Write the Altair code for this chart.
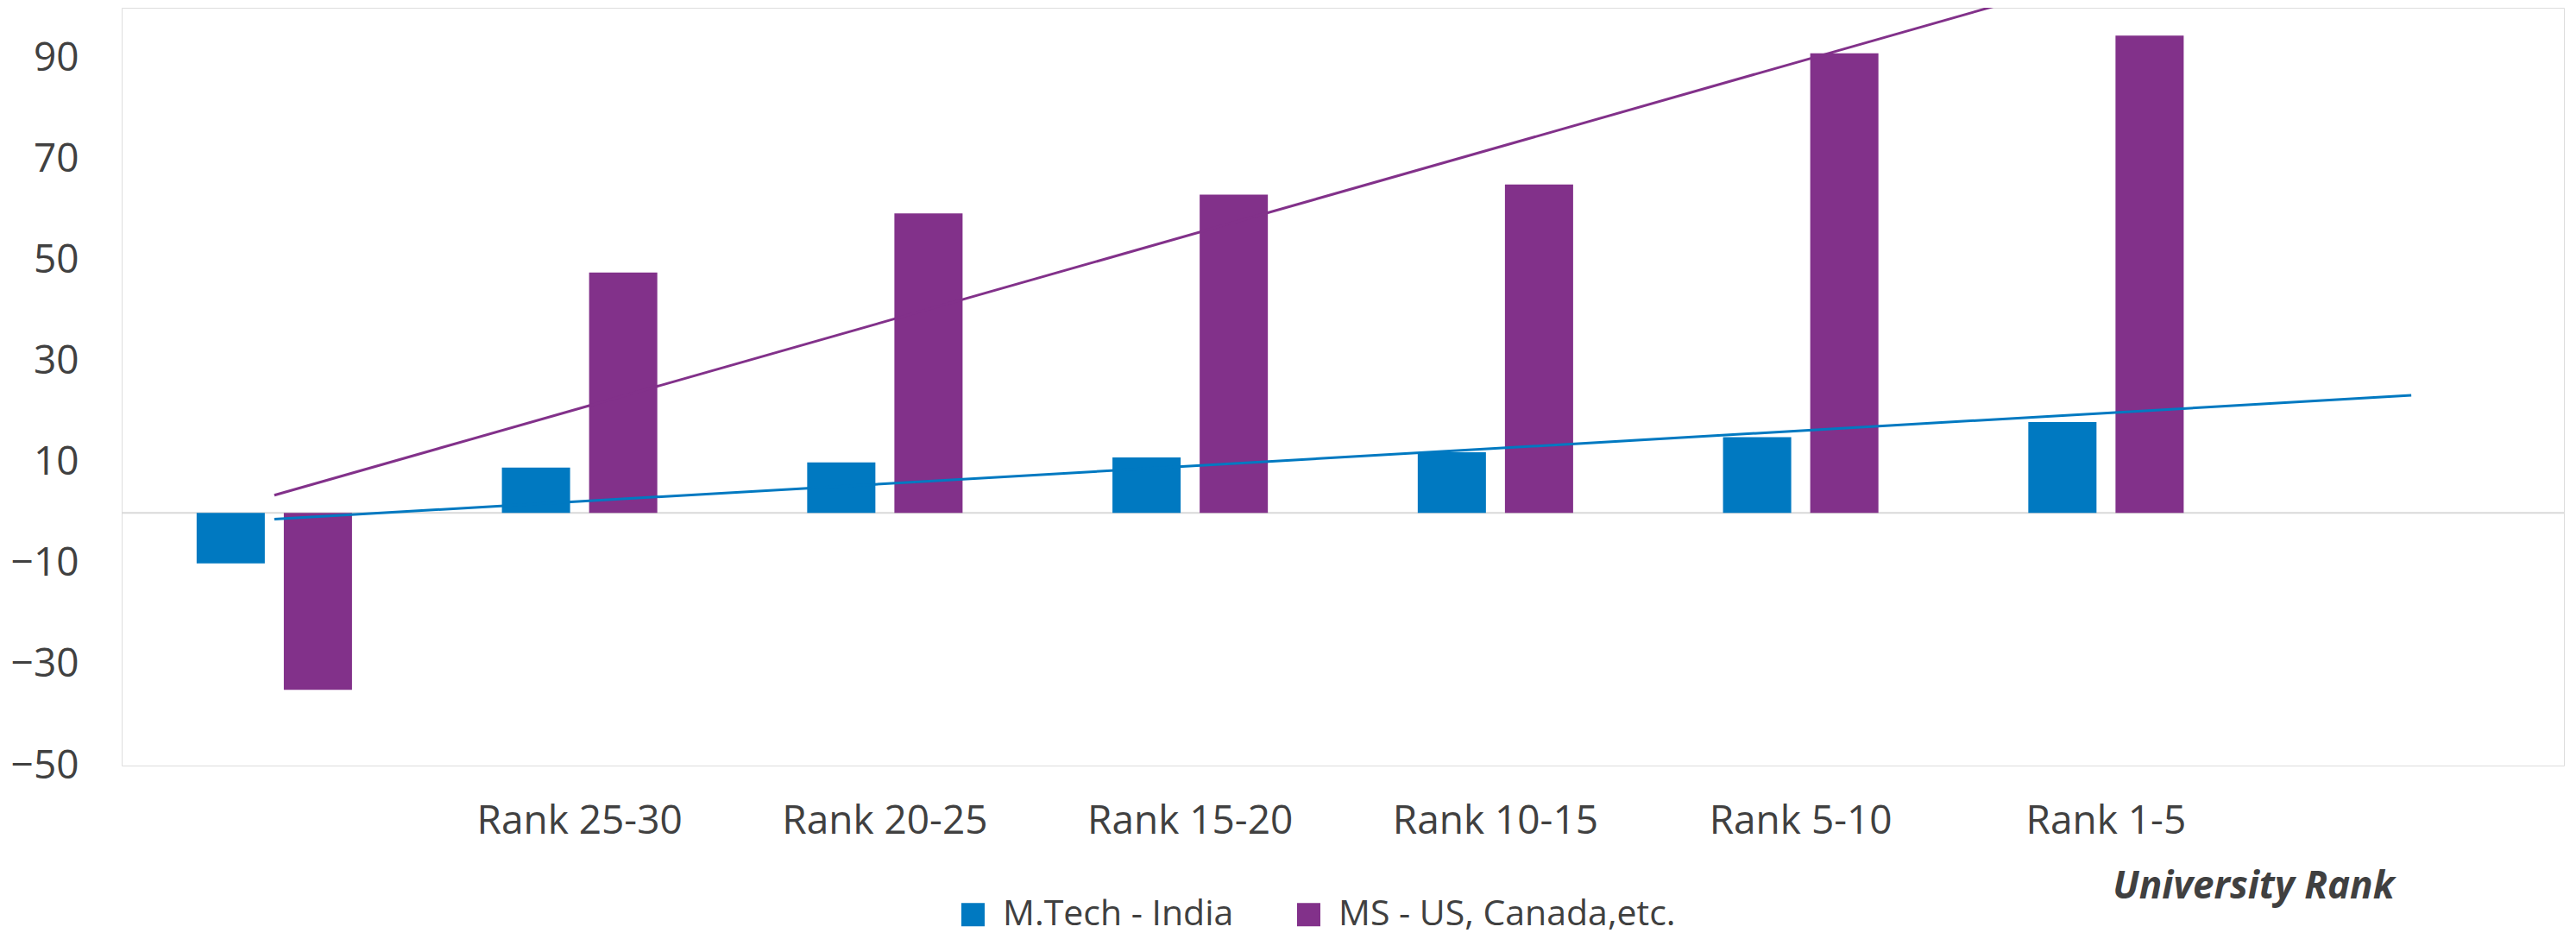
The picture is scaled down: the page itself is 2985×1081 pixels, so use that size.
import json
import altair as alt
import pandas as pd

# ---- data ----
categories = [" ", "Rank 25-30", "Rank 20-25", "Rank 15-20", "Rank 10-15", "Rank 5-10", "Rank 1-5", "  "]
data_categories = categories[:7]
series_names = ["M.Tech - India", "MS - US, Canada,etc."]
mtech_values = [-10, 9, 10, 11, 12, 15, 18]
ms_values = [-35, 47.6, 59.3, 63, 65, 91, 94.5]
y_tick_values = [-50, -30, -10, 10, 30, 50, 70, 90]
zero_line = [0]
colors = ["#0079C1", "#82318A"]

rows = []
for i, c in enumerate(data_categories):
    rows.append({"cat": c, "idx": i + 1, "series": series_names[0], "value": mtech_values[i]})
    rows.append({"cat": c, "idx": i + 1, "series": series_names[1], "value": ms_values[i]})
df = pd.DataFrame(rows)
zero_df = pd.DataFrame({"v": zero_line})

FONT = "Open Sans"
TXT = "#404040"

x_scale = alt.Scale(domain=categories, paddingInner=0.491, paddingOuter=0.2455)
y_scale = alt.Scale(domain=[-50, 100], nice=False, zero=False)

x_axis = alt.Axis(
    labelAngle=0, labelFontSize=46, labelFont=FONT, labelColor=TXT,
    labelBaseline="alphabetic", labelPadding=78, labelLimit=500,
    ticks=False, tickSize=0, domain=False, grid=False,
    title="University Rank", titleFont=FONT, titleFontSize=44,
    titleFontWeight="bold", titleFontStyle="italic", titleColor=TXT,
    titleX=2470, titleY=153, titleAlign="center", titleBaseline="alphabetic",
)
y_axis = alt.Axis(
    values=y_tick_values, labelFontSize=46, labelFont=FONT, labelColor=TXT,
    labelPadding=50, ticks=False, domain=False, grid=False, title=None,
    minExtent=133, maxExtent=133,
)

rule = alt.Chart(zero_df).mark_rule(color="#D9D9D9", strokeWidth=2).encode(
    y=alt.Y("v:Q", scale=y_scale, axis=y_axis)
)

bars = alt.Chart(df).mark_bar().encode(
    x=alt.X("cat:N", scale=x_scale, axis=x_axis, sort=categories),
    xOffset=alt.XOffset("series:N", sort=series_names,
                        scale=alt.Scale(domain=series_names, paddingInner=0.218, paddingOuter=0)),
    y=alt.Y("value:Q", scale=y_scale, axis=y_axis),
    color=alt.Color(
        "series:N",
        scale=alt.Scale(domain=series_names, range=colors),
        legend=alt.Legend(
            orient="none", legendX=966, legendY=1030, direction="horizontal",
            title=None, symbolType="square", symbolSize=729, symbolStrokeWidth=0,
            labelFontSize=41, labelFont=FONT, labelColor=TXT, labelOffset=14,
            columnPadding=66, padding=0, labelLimit=600,
        ),
    ),
)

cat_expr = json.dumps(categories) + "[datum.idx - 1]"
trend = (
    alt.Chart(df)
    .transform_regression("idx", "value", groupby=["series"], extent=[1, len(categories)])
    .transform_calculate(cat=cat_expr)
    .mark_line(strokeWidth=3, clip=True)
    .encode(
        x=alt.X("cat:N", scale=x_scale, axis=x_axis, sort=categories),
        y=alt.Y("value:Q", scale=y_scale, axis=y_axis),
        stroke=alt.Stroke("series:N", scale=alt.Scale(domain=series_names, range=colors), legend=None),
        detail="series:N",
    )
)

chart = (
    alt.layer(rule, bars, trend)
    .properties(width=2830, height=878, padding={"left": 0, "top": 1, "right": 5, "bottom": 30})
    .configure_view(stroke="#4D4D4D", strokeWidth=2.5)
    .configure(background="white")
)

chart.save("out.html", embed_options={"renderer": "svg", "actions": False})
